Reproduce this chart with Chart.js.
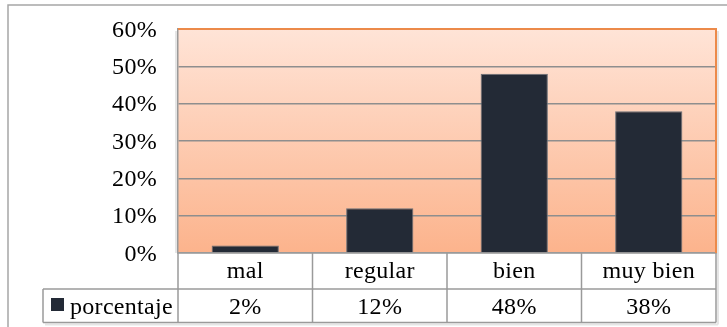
<!DOCTYPE html>
<html>
<head>
<meta charset="utf-8">
<script src="https://cdn.jsdelivr.net/npm/chart.js@4"></script>
<style>
  html, body { margin: 0; padding: 0; background: #fff; }
  canvas { display: block; }
</style>
</head>
<body>
<canvas id="c" width="727" height="327"></canvas>
<script>
// Survey results: share of answers per rating
const categories = ['mal', 'regular', 'bien', 'muy bien'];
const porcentaje = [2, 12, 48, 38];
const seriesName = 'porcentaje';
const yMax = 60;
const yStep = 10;

const FONT = '"Liberation Serif", "Times New Roman", serif';
const FONT_SIZE = 24;
const BAR = '#232a36';
const LINE = '#9a9a9a';
const GRID = '#8e8e8e';
const FRAME_ORANGE = '#ec8a4a';

// table geometry under the plot (rows for labels and values)
const TABLE_LEFT = 43;
const ROW1_BOTTOM = 289;
const ROW2_BOTTOM = 322.5;

const tablePlugin = {
  id: 'dataTable',
  beforeDraw(chart) {
    const { ctx, chartArea: a } = chart;
    ctx.letterSpacing = '0.3px';
    ctx.save();
    // soft shadow around plot + table
    ctx.strokeStyle = 'rgba(0,0,0,0.10)';
    ctx.lineWidth = 2;
    ctx.beginPath();
    ctx.moveTo(a.left - 2, a.top + 2); ctx.lineTo(a.left - 2, a.bottom);
    ctx.moveTo(a.right + 2, a.top + 2); ctx.lineTo(a.right + 2, ROW2_BOTTOM + 2);
    ctx.moveTo(TABLE_LEFT + 2, ROW2_BOTTOM + 2); ctx.lineTo(a.right + 2, ROW2_BOTTOM + 2);
    ctx.stroke();

    const g = ctx.createLinearGradient(0, a.top, 0, a.bottom);
    g.addColorStop(0, '#ffe4d7');
    g.addColorStop(1, '#fcb38c');
    ctx.fillStyle = g;
    ctx.fillRect(a.left, a.top, a.right - a.left, a.bottom - a.top);
    ctx.restore();
  },
  afterDraw(chart) {
    const { ctx, chartArea: a } = chart;
    const x = chart.scales.x;
    ctx.save();

    // orange frame on top and right of the plot area
    ctx.strokeStyle = FRAME_ORANGE;
    ctx.lineWidth = 2;
    ctx.beginPath();
    ctx.moveTo(a.left, a.top);
    ctx.lineTo(a.right, a.top);
    ctx.lineTo(a.right, a.bottom);
    ctx.stroke();

    // data table grid
    ctx.strokeStyle = LINE;
    ctx.lineWidth = 1.5;
    ctx.beginPath();
    ctx.moveTo(TABLE_LEFT, ROW1_BOTTOM); ctx.lineTo(a.right, ROW1_BOTTOM);
    ctx.moveTo(TABLE_LEFT, ROW2_BOTTOM); ctx.lineTo(a.right, ROW2_BOTTOM);
    ctx.moveTo(TABLE_LEFT, ROW1_BOTTOM); ctx.lineTo(TABLE_LEFT, ROW2_BOTTOM);
    ctx.moveTo(a.left, a.bottom); ctx.lineTo(a.left, ROW2_BOTTOM);
    ctx.moveTo(a.right, a.bottom); ctx.lineTo(a.right, ROW2_BOTTOM);
    for (let i = 1; i < categories.length; i++) {
      const bx = (x.getPixelForTick(i - 1) + x.getPixelForTick(i)) / 2;
      ctx.moveTo(bx, a.bottom); ctx.lineTo(bx, ROW2_BOTTOM);
    }
    ctx.stroke();

    // legend key + series name
    const ds = chart.data.datasets[0];
    const baseY = 313.5;
    ctx.fillStyle = ds.backgroundColor;
    ctx.fillRect(51, 298, 13, 13);
    ctx.fillStyle = '#000';
    ctx.font = FONT_SIZE + 'px ' + FONT;
    ctx.textBaseline = 'alphabetic';
    ctx.textAlign = 'left';
    ctx.fillText(ds.label, 70, baseY);

    // values row
    ctx.textAlign = 'center';
    ds.data.forEach((v, i) => {
      ctx.fillText(v + '%', x.getPixelForValue(i), baseY);
    });

    // outer frame of the figure
    ctx.strokeStyle = '#a6a6a6';
    ctx.lineWidth = 1.5;
    ctx.beginPath();
    ctx.moveTo(8, 330); ctx.lineTo(8, 5); ctx.lineTo(730, 5);
    ctx.stroke();

    ctx.restore();
  }
};

new Chart(document.getElementById('c'), {
  type: 'bar',
  data: {
    labels: categories,
    datasets: [{
      label: seriesName,
      data: porcentaje,
      backgroundColor: BAR,
      borderColor: '#6b7078',
      borderWidth: 1,
      barPercentage: 0.5,
      categoryPercentage: 1
    }]
  },
  options: {
    responsive: false,
    animation: false,
    devicePixelRatio: 1,
    layout: { padding: { left: 0, top: 29, right: 11, bottom: 0 } },
    plugins: { legend: { display: false }, tooltip: { enabled: false } },
    scales: {
      x: {
        grid: { display: false, drawTicks: false },
        border: { display: true, color: LINE, width: 1.5 },
        ticks: { color: '#000', font: { family: FONT, size: FONT_SIZE }, padding: 4.5, maxRotation: 0, autoSkip: false },
        afterFit(s) { s.height = 74; }
      },
      y: {
        min: 0,
        max: yMax,
        grid: { color: GRID, lineWidth: 1.5, drawTicks: false },
        border: { display: true, color: LINE, width: 1.5 },
        ticks: {
          stepSize: yStep,
          color: '#000',
          font: { family: FONT, size: FONT_SIZE },
          padding: 21,
          labelOffset: 1.5,
          callback: v => v + '%'
        },
        afterFit(s) {
          s.width = 178;
          s.paddingTop = 0;
          s.paddingBottom = 0;
        }
      }
    }
  },
  plugins: [tablePlugin]
});
</script>
</body>
</html>
